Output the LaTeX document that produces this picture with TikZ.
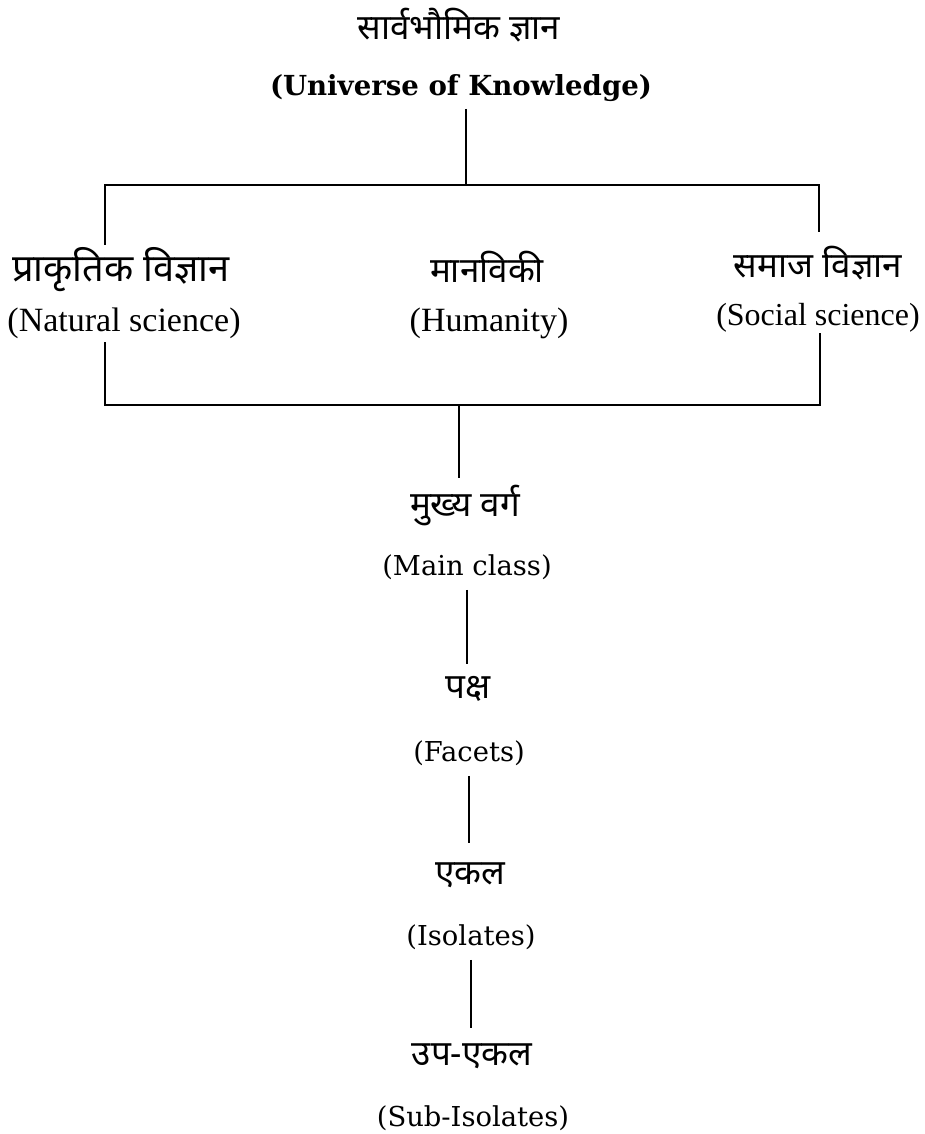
\documentclass[tikz,border=0pt]{standalone}
\usepackage{fontspec}
\setmainfont{Liberation Serif}
\newfontfamily\hindi[Script=Devanagari]{Noto Sans}
\newfontfamily\book{DejaVu Serif}
\usepackage{tikz}

\begin{document}
\begin{tikzpicture}[x=0.5pt,y=-0.5pt,line width=1.3pt]
				\useasboundingbox (0,0) rectangle (925,1134);
				\tikzset{hi/.style={inner sep=0pt,font=\hindi\fontsize{17.5}{20}\selectfont},
					en/.style={inner sep=0pt,font=\book\fontsize{13.7}{16}\selectfont},
					br/.style={inner sep=0pt,font=\fontsize{17}{19}\selectfont}}
				
				\node[hi] (u1) at (459,25) {सार्वभौमिक ज्ञान};%top
				\node[en,font=\book\bfseries\fontsize{13.8}{16}\selectfont] (u2) at (461,88) {(Universe of Knowledge)};
				
				\node[hi,font=\hindi\fontsize{19}{22}\selectfont] (a1) at (121,270) {प्राकृतिक विज्ञान};%left
				\node[br] (a2) at (124,323) {(Natural science)};
				\node[hi] (b1) at (487,267) {मानविकी};%middle
				\node[br] (b2) at (489,323) {(Humanity)};
				\node[hi] (c1) at (818,263) {समाज विज्ञान};%right
				\node[br,font=\fontsize{16}{19}\selectfont] (c2) at (818,318) {(Social science)};
				
				\node[hi] (m1) at (465,506) {मुख्य वर्ग};
				\node[en] (m2) at (467,567) {(Main class)};
				\node[hi] (p1) at (468,689) {पक्ष};
				\node[en] (p2) at (469,753) {(Facets)};
				\node[hi] (e1) at (470,875) {एकल};
				\node[en] (e2) at (471,937) {(Isolates)};
				\node[hi] (s1) at (472,1056) {उप-एकल};
				\node[en] (s2) at (473,1118) {(Sub-Isolates)};
				
				\coordinate (j1) at (466,185);
				\coordinate (j2) at (105,185);
				\coordinate (j3) at (819,185);
				\coordinate (j4) at (105,245);
				\coordinate (j5) at (819,232);
				\coordinate (k1) at (105,342);
				\coordinate (k2) at (820,333);
				\coordinate (k3) at (105,405);
				\coordinate (k4) at (820,405);
				\coordinate (k5) at (459,405);
				
				\draw[shorten <=3pt] (u2.south -| j1) -- (j1);
				\draw (j4) -- (j2) -- (j3) -- (j5);
				\draw (k1) -- (k3) -- (k4) -- (k2);
				\draw[shorten >=3pt] (k5) -- (k5 |- m1.north);
				\draw[shorten <=4.5pt,shorten >=5.5pt] (m2.south) -- (m2.south |- p1.north);
				\draw[shorten <=4.5pt,shorten >=9pt] (p2.south) -- (p2.south |- e1.north);
				\draw[shorten <=4.5pt,shorten >=7pt] (e2.south) -- (e2.south |- s1.north);
			\end{tikzpicture}
\end{document}
